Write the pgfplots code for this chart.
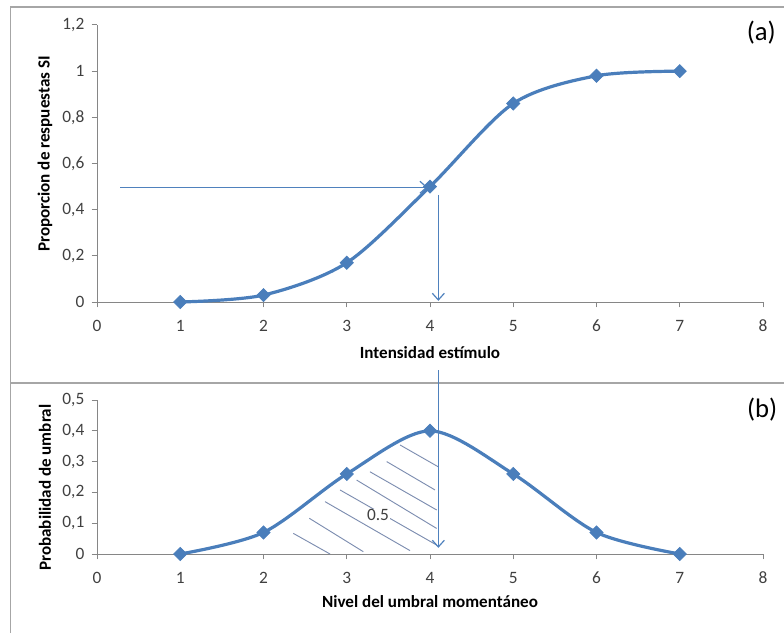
\documentclass[border=0pt]{standalone}
\usepackage{pgfplots}
\pgfplotsset{compat=1.18}
\usetikzlibrary{arrows.meta}
\usepackage{fontspec}
\setmainfont{Carlito}
\definecolor{serie}{HTML}{4A7EBB}
\definecolor{arrowc}{HTML}{4F81BD}
\definecolor{axgray}{HTML}{868686}
\definecolor{framegray}{HTML}{A6A6A6}
\definecolor{txt}{HTML}{404040}
\definecolor{hatch}{HTML}{7D8DB0}
\tikzset{arr/.style={draw=arrowc, line width=0.9pt, -{Straight Barb[length=5pt,width=9pt]}}}
\pgfplotsset{
  panel/.style={
    scale only axis,
    width=499.5pt,
    xmin=0, xmax=8,
    xtick={0,...,8},
    axis lines*=left,
    axis line style={draw=axgray, line width=0.75pt, -},
    tick style={draw=axgray, line width=0.75pt},
    tick align=outside,
    major tick length=4pt,
    tick label style={font=\fontsize{13}{15}\selectfont, text=txt},
    xticklabel style={yshift=-6pt},
    yticklabel style={xshift=-2pt},
    /pgf/number format/assume math mode=true,
    /pgf/number format/use comma,
    label style={font=\fontsize{12.8}{14}\selectfont\bfseries, text=black},
    clip=false,
  },
  serie/.style={color=serie, line width=2.4pt, smooth, tension=0.5,
    mark=square*, mark size=3.5pt, mark options={fill=serie, line width=0.5pt, rotate=45}},
  hl/.style={hatch, line width=0.7pt, forget plot},
}
\begin{document}
\begin{tikzpicture}[x=1pt,y=1pt]
\useasboundingbox (0,0) rectangle (588,474.75);
\draw[framegray, line width=1pt] (7.75,0) -- (7.75,469.5) -- (590,469.5);
\draw[framegray, line width=1pt] (7.75,187.5) -- (590,187.5);
% top panel
\begin{axis}[panel, at={(72.75pt,248.25pt)}, anchor=south west,
  height=207.75pt, ymin=0, ymax=1.2, ytick={0,0.2,...,1.2},
  xlabel={Intensidad estímulo}, ylabel={Proporcion de respuestas SI},
  xlabel style={at={(axis description cs:0.5,-0.184)}, anchor=center},
  ylabel style={at={(axis description cs:-0.078,0.534)}, anchor=center},
]
\addplot[serie] coordinates {(1,0) (2,0.03) (3,0.17) (4,0.5) (5,0.86) (6,0.98) (7,1)};
\draw[arr] (axis cs:0.28,0.497) -- (axis cs:3.97,0.497);
\draw[arr] (axis cs:4.1,0.464) -- (axis cs:4.1,0.005);
\node[font=\fontsize{20}{22}\selectfont, text=black] at (axis cs:7.98,1.166) {(a)};
\end{axis}
% bottom panel
\begin{axis}[panel, at={(72.75pt,59.25pt)}, anchor=south west,
  height=115.5pt, ymin=0, ymax=0.5, ytick={0,0.1,...,0.5},
  xlabel={Nivel del umbral momentáneo}, ylabel={Probabilidad de umbral},
  xlabel style={at={(axis description cs:0.5,-0.31)}, anchor=center},
  ylabel style={at={(axis description cs:-0.078,0.43)}, anchor=center},
]
% hatching
\addplot[hl] coordinates {(2.358,0.067) (2.799,0.0)};
\addplot[hl] coordinates {(2.55,0.116) (3.199,0.0075)};
\addplot[hl] coordinates {(2.739,0.170) (3.76,0.011)};
\addplot[hl] coordinates {(2.919,0.208) (4.08,0.029)};
\addplot[hl] coordinates {(3.119,0.240) (4.08,0.083)};
\addplot[hl] coordinates {(3.279,0.267) (4.08,0.143)};
\addplot[hl] coordinates {(3.48,0.30) (4.06,0.208)};
\addplot[hl] coordinates {(3.64,0.354) (4.1,0.283)};
\addplot[serie] coordinates {(1,0) (2,0.07) (3,0.26) (4,0.4) (5,0.26) (6,0.07) (7,0)};
\draw[arr] (axis cs:4.1,0.597) -- (axis cs:4.1,0.02);
\node[font=\fontsize{13}{15}\selectfont, text=txt, fill=white, inner sep=0.5pt] at (axis cs:3.375,0.127) {0.5};
\node[font=\fontsize{20}{22}\selectfont, text=black] at (axis cs:7.99,0.47) {(b)};
\end{axis}
\end{tikzpicture}
\end{document}
